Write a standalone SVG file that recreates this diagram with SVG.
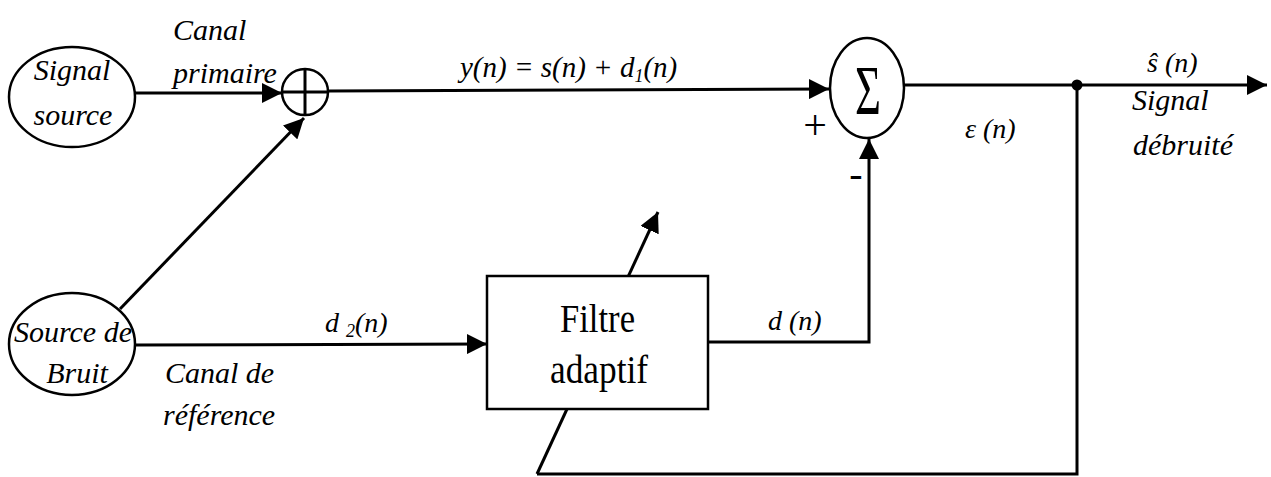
<svg xmlns="http://www.w3.org/2000/svg" width="1271" height="477" viewBox="0 0 1271 477">
<defs>
<style>
.ln{stroke:#000;stroke-width:3;fill:none}
.nd{stroke:#000;stroke-width:2.5;fill:#fff}
text{font-family:'Liberation Serif','DejaVu Serif','Noto Serif',Times,serif;fill:#000}
.it{font-style:italic;font-size:30px}
.rg{font-size:40px}
.sg{font-size:30px}
</style>
<marker id="ah" markerUnits="userSpaceOnUse" markerWidth="22" markerHeight="20" refX="20" refY="10" orient="auto" viewBox="0 0 22 20">
<path d="M0,0 L20,10 L0,20 Z" fill="#000"/>
</marker>
</defs>
<rect width="1271" height="477" fill="#fff"/>
<g id="connectors">
<line class="ln" x1="135" y1="93" x2="282" y2="93" marker-end="url(#ah)"/>
<line class="ln" x1="120" y1="309" x2="304" y2="118" marker-end="url(#ah)"/>
<line class="ln" x1="328" y1="91" x2="829" y2="89" marker-end="url(#ah)"/>
<line class="ln" x1="135" y1="345" x2="487" y2="344" marker-end="url(#ah)"/>
<polyline class="ln" points="708,342 869,342 869,139" marker-end="url(#ah)"/>
<line class="ln" x1="904" y1="85" x2="1267" y2="85" marker-end="url(#ah)"/>
<polyline class="ln" points="1077,85 1077,474 537,474"/>
<line class="ln" x1="537" y1="474" x2="658" y2="212" marker-end="url(#ah)"/>
<circle cx="1077" cy="85" r="5.5" fill="#000"/>
</g>
<g id="signal-source">
<ellipse class="nd" cx="72" cy="97" rx="63" ry="50"/>
<text class="it" x="72" y="80" text-anchor="middle">Signal</text>
<text class="it" x="73" y="125" text-anchor="middle">source</text>
</g>
<g id="source-bruit">
<ellipse class="nd" cx="72" cy="344" rx="63" ry="51"/>
<text class="it" x="73" y="342" text-anchor="middle">Source de</text>
<text class="it" x="77" y="383" text-anchor="middle">Bruit</text>
</g>
<g id="adder">
<circle class="nd" cx="305" cy="92" r="23"/>
<line class="ln" x1="282" y1="92" x2="328" y2="92" stroke-width="2"/>
<line class="ln" x1="305" y1="69" x2="305" y2="115" stroke-width="2"/>
</g>
<g id="sum">
<ellipse class="nd" cx="867" cy="88" rx="37" ry="50"/>
<text x="855" y="114" style="font-size:70px" textLength="26" lengthAdjust="spacingAndGlyphs">Σ</text>
</g>
<g id="filtre">
<rect class="nd" x="487" y="276" width="221" height="133"/>
<text class="rg" x="560" y="332" textLength="75" lengthAdjust="spacingAndGlyphs">Filtre</text>
<text class="rg" x="550" y="383" textLength="98" lengthAdjust="spacingAndGlyphs">adaptif</text>
</g>
<g id="labels">
<text class="it" x="173" y="40">Canal</text>
<text class="it" x="173" y="83">primaire</text>
<text class="it" x="460" y="77" style="font-size:29px">y(n) = s(n) + d<tspan style="font-size:18px" dy="5">1</tspan><tspan dy="-5">(n)</tspan></text>
<text class="it" x="325" y="332" style="font-size:28px">d <tspan style="font-size:18px" dy="5">2</tspan><tspan dy="-5">(n)</tspan></text>
<text class="it" x="165" y="383">Canal de</text>
<text class="it" x="163" y="425">référence</text>
<text class="it" x="768" y="330" style="font-size:28px">d (n)</text>
<text class="it" x="965" y="138" style="font-size:28px">ε (n)</text>
<text class="it" x="1147" y="72" style="font-size:28px">ŝ (n)</text>
<text class="it" x="1132" y="110">Signal</text>
<text class="it" x="1133" y="155">débruité</text>
<text class="sg" x="815" y="139" text-anchor="middle" style="font-size:42px">+</text>
<text class="sg" x="856" y="187" text-anchor="middle" style="font-size:40px">-</text>
</g>
</svg>
